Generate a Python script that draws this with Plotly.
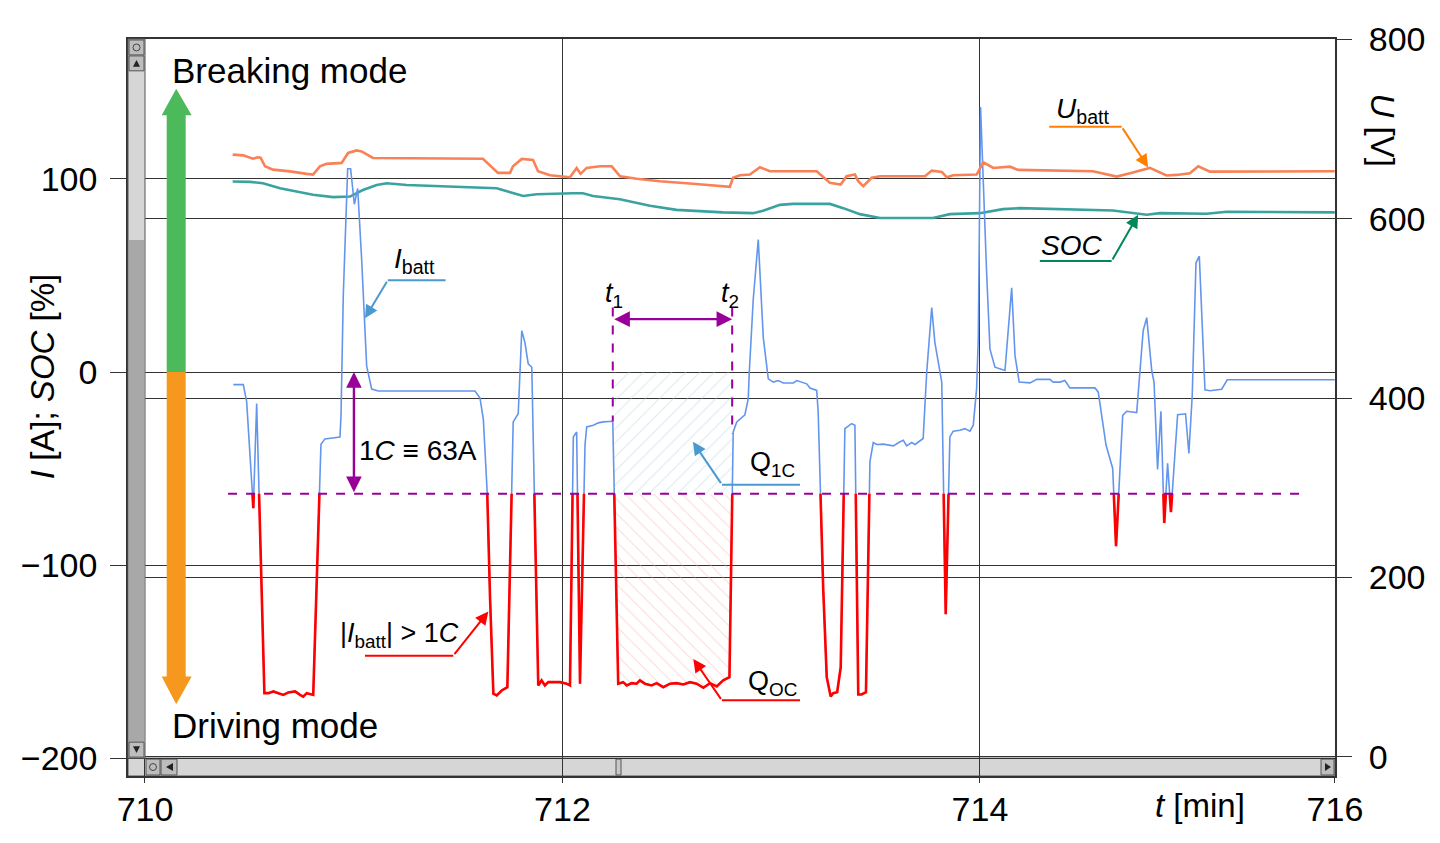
import numpy as np
import plotly.graph_objects as go

# battery current I_batt [A] vs time [min]
t_i = [710.423, 710.471, 710.487, 710.503, 710.519, 710.535, 710.572, 710.591, 710.615,
       710.639, 710.663, 710.687, 710.719, 710.743, 710.758, 710.775, 710.799, 710.806,
       710.843, 710.862, 710.934, 710.939, 710.950, 710.971, 710.985, 711.003, 711.019,
       711.038, 711.062, 711.086, 711.118, 711.581, 711.605, 711.621, 711.637, 711.653,
       711.669, 711.685, 711.709, 711.736, 711.764, 711.788, 711.805, 711.820, 711.836,
       711.853, 711.884, 711.900, 711.916, 711.932, 711.988, 712.020, 712.036, 712.052,
       712.068, 712.084, 712.108, 712.116, 712.148, 712.172, 712.196, 712.241, 712.267,
       712.291, 712.308, 712.332, 712.355, 712.371, 712.395, 712.427, 712.451, 712.483,
       712.515, 712.547, 712.579, 712.611, 712.643, 712.675, 712.707, 712.739, 712.770,
       712.800, 712.818, 712.835, 712.874, 712.890, 712.895, 712.914, 712.938, 712.962,
       712.986, 713.010, 713.034, 713.058, 713.106, 713.122, 713.170, 713.186, 713.218,
       713.225, 713.249, 713.266, 713.285, 713.297, 713.316, 713.333, 713.353, 713.385,
       713.401, 713.417, 713.433, 713.454, 713.473, 713.489, 713.505, 713.537, 713.585,
       713.617, 713.633, 713.649, 713.673, 713.689, 713.728, 713.745, 713.769, 713.784,
       713.817, 713.836, 713.856, 713.872, 713.904, 713.928, 713.952, 713.968, 713.984,
       713.992, 714.003, 714.032, 714.048, 714.072, 714.120, 714.152, 714.168, 714.188,
       714.240, 714.272, 714.335, 714.351, 714.383, 714.407, 714.431, 714.551, 714.567,
       714.604, 714.636, 714.652, 714.684, 714.703, 714.751, 714.782, 714.799, 714.823,
       714.834, 714.851, 714.867, 714.883, 714.899, 714.915, 714.947, 714.985, 715.001,
       715.017, 715.035, 715.051, 715.078, 715.102, 715.158, 715.185, 715.700]
i_batt = [-6.5, -6.5, -15.3, -42.9, -70.5, -16.3, -166.3, -166.3, -165.4,
          -166.3, -167.2, -165.9, -165.4, -167.2, -168.1, -166.3, -167.2, -167.2,
          -37.4, -34.6, -33.7, -22.7, 39.9, 105.3, 105.3, 86.9, 95.1,
          58.3, 3.1, -8.8, -9.8, -9.8, -13.5, -24.5, -52.1, -116.8,
          -166.6, -167.5, -164.9, -163.2, -25.8, -21.6, 21.4, 15.4, 4.2,
          2.5, -162.3, -159.7, -162.3, -160.6, -160.6, -161.4, -162.3, -33.6,
          -31.0, -161.4, -37.8, -28.4, -27.5, -26.3, -25.8, -25.5, -161.4,
          -160.6, -162.3, -161.1, -161.4, -159.7, -161.4, -162.3, -161.1, -163.2,
          -161.4, -161.1, -161.8, -160.6, -161.4, -163.5, -161.1, -162.8, -159.7,
          -158.0, -31.0, -25.8, -22.1, -13.8, -0.1, 37.7, 68.6, 18.0,
          -3.5, -5.2, -4.4, -5.7, -5.6, -4.4, -6.1, -8.3, -9.5,
          -20.7, -111.7, -158.0, -168.0, -166.3, -165.8, -152.9, -29.3, -26.7,
          -27.5, -167.0, -167.0, -165.8, -46.4, -36.5, -37.5, -37.3, -38.2,
          -36.1, -35.3, -38.2, -36.5, -37.5, -34.4, -0.1, 33.4, 15.4,
          -5.2, -125.4, -33.6, -30.6, -30.1, -29.3, -30.6, -27.5, -8.7,
          17.1, 137.3, 51.4, 11.9, 2.5, 0.8, 43.7, 8.5, -5.2,
          -5.6, -3.8, -3.8, -5.2, -5.2, -4.4, -8.2, -8.2, -10.4,
          -37.8, -49.9, -90.2, -22.4, -20.3, -21.0, 21.4, 28.2, 0.8,
          -5.2, -50.4, -20.3, -78.2, -47.3, -72.5, -22.1, -21.6, -42.2,
          -12.1, 56.6, 60.0, -9.2, -9.7, -8.9, -4.0, -4.0]

# battery voltage U_batt [V]
t_u = [710.420, 710.470, 710.517, 710.541, 710.554, 710.575, 710.613, 710.695, 710.775,
       710.805, 710.838, 710.870, 710.942, 710.973, 711.014, 711.038, 711.092, 711.619,
       711.691, 711.749, 711.763, 711.805, 711.859, 711.883, 711.940, 712.036, 712.068,
       712.087, 712.116, 712.180, 712.236, 712.276, 712.356, 712.467, 712.625, 712.802,
       712.817, 712.850, 712.898, 712.946, 712.994, 713.218, 713.281, 713.333, 713.361,
       713.401, 713.417, 713.441, 713.481, 713.521, 713.737, 713.769, 713.817, 713.841,
       713.872, 713.984, 714.016, 714.064, 714.144, 714.183, 714.541, 714.655, 714.719,
       714.814, 714.894, 714.942, 715.006, 715.046, 715.102, 715.700]
u_batt = [671.5, 670.7, 667.0, 668.5, 668.1, 658.5, 654.8, 652.9, 650.1,
          649.3, 658.5, 661.2, 662.3, 673.4, 676.2, 675.1, 667.8, 667.0,
          651.2, 651.2, 658.5, 666.7, 665.6, 653.0, 648.6, 646.4, 656.7,
          650.1, 656.7, 658.5, 658.5, 647.4, 644.6, 641.9, 639.0, 635.7,
          645.7, 648.6, 649.3, 657.4, 653.0, 653.0, 640.1, 638.2, 647.4,
          649.3, 641.9, 636.3, 645.7, 647.4, 647.4, 653.7, 652.3, 646.3,
          648.6, 649.3, 663.0, 656.7, 658.1, 654.5, 653.0, 647.1, 650.8,
          656.7, 648.2, 648.9, 650.8, 658.6, 652.6, 653.0]

# state of charge SOC [%]
t_soc = [710.420, 710.503, 710.565, 710.647, 710.805, 710.901, 710.982, 711.044, 711.110,
         711.158, 711.254, 711.461, 711.493, 711.685, 711.812, 711.876, 712.050, 712.098,
         712.146, 712.275, 712.419, 712.547, 712.769, 712.913, 712.961, 713.042, 713.104,
         713.281, 713.345, 713.425, 713.521, 713.775, 713.856, 714.000, 714.110, 714.192,
         714.637, 714.799, 714.862, 715.086, 715.182, 715.700]
soc = [98.7, 98.5, 97.8, 95.2, 91.8, 90.6, 90.9, 94.3, 96.9,
       97.8, 96.9, 96.1, 95.6, 95.2, 91.2, 92.1, 92.6, 92.6,
       91.2, 89.5, 86.1, 84.0, 82.7, 82.3, 83.5, 86.6, 87.1,
       87.1, 84.9, 81.8, 79.8, 79.8, 81.8, 82.3, 84.4, 84.9,
       83.7, 81.5, 82.3, 82.0, 83.0, 82.7]

ONE_C = -63          # 1C = 63 A discharge limit
T1, T2 = 712.241, 712.813

FONT = "Liberation Sans, Arial, sans-serif"
GRID = "#333333"
BLUE = "#6495ED"
RED = "#FF0000"
PURPLE = "#990099"

# the page has an 8px body margin, so the figure is 8px smaller than the window
W, H, PAGE = 1432, 835, 8
# plot area (incl. the scrollbars) in window pixels
PX0, PX1, PY0, PY1 = 128, 1335, 35, 776


def ppx(p):
    return (p - PX0) / (PX1 - PX0)


def ppy(p):
    return (PY1 - p) / (PY1 - PY0)


def split_at(t, y, thr):
    # insert the threshold crossings so the red part starts exactly at 1C
    tt, yy = [t[0]], [y[0]]
    for k in range(1, len(t)):
        y0, y1 = y[k - 1], y[k]
        if (y0 - thr) * (y1 - thr) < 0:
            tt.append(t[k - 1] + (thr - y0) * (t[k] - t[k - 1]) / (y1 - y0))
            yy.append(thr)
        tt.append(t[k])
        yy.append(y[k])
    return np.array(tt), np.array(yy)


tt, yy = split_at(t_i, i_batt, ONE_C)
red = np.where(yy <= ONE_C + 1e-9, yy, np.nan)

# over-current area between t1 and t2
sel = (tt >= T1 - 0.01) & (tt <= T2 + 0.01) & (yy <= ONE_C + 1e-9)
q_t, q_y = tt[sel], yy[sel]

fig = go.Figure()

fig.add_trace(go.Scatter(
    x=[q_t[0], q_t[-1], q_t[-1], q_t[0]], y=[0, 0, ONE_C, ONE_C],
    mode="none", fill="toself", fillcolor="rgba(0,0,0,0)",
    fillpattern=dict(shape="/", fgcolor="#b4d3db", bgcolor="rgba(0,0,0,0)", size=10, solidity=0.1),
    hoverinfo="skip"))
fig.add_trace(go.Scatter(
    x=q_t, y=q_y, mode="none", fill="toself", fillcolor="rgba(0,0,0,0)",
    fillpattern=dict(shape="\\", fgcolor="#f3b3ad", bgcolor="rgba(0,0,0,0)", size=10, solidity=0.1),
    hoverinfo="skip"))

fig.add_trace(go.Scatter(x=t_soc, y=soc, mode="lines", line=dict(color="#3aa39f", width=2.6)))
fig.add_trace(go.Scatter(x=tt, y=yy, mode="lines", line=dict(color=BLUE, width=1.6)))
fig.add_trace(go.Scatter(x=tt, y=red, mode="lines", line=dict(color=RED, width=2.6), connectgaps=False))
fig.add_trace(go.Scatter(x=t_u, y=u_batt, yaxis="y2", mode="lines", line=dict(color="#fa8155", width=2.6)))

shapes = []

# mode arrows
shapes.append(dict(type="path", xref="x", yref="y", fillcolor="#4cb95b", line=dict(width=0),
                   path="M 710.104,0 L 710.104,133 L 710.080,133 L 710.1495,146.7 "
                        "L 710.2237,133 L 710.195,133 L 710.195,0 Z"))
shapes.append(dict(type="path", xref="x", yref="y", fillcolor="#f7981e", line=dict(width=0),
                   path="M 710.104,0 L 710.104,-157.7 L 710.080,-157.7 L 710.1495,-172.1 "
                        "L 710.2237,-157.7 L 710.195,-157.7 L 710.195,0 Z"))

# 1C threshold and t1/t2 markers
shapes.append(dict(type="line", xref="x", yref="y", x0=710.398, x1=715.557, y0=ONE_C, y1=ONE_C,
                   line=dict(color=PURPLE, width=2, dash="dash")))
shapes.append(dict(type="line", xref="x", yref="y", x0=T1, x1=T1, y0=33.4, y1=-25.5,
                   line=dict(color=PURPLE, width=2, dash="dash")))
shapes.append(dict(type="line", xref="x", yref="y", x0=T2, x1=T2, y0=33.4, y1=-31.9,
                   line=dict(color=PURPLE, width=2, dash="dash")))

# underlines of the labels
for x0, x1, y0, col in [(711.163, 711.440, 47.6, "#4a9ad0"),
                        (714.332, 714.679, 127.0, "#ff8000"),
                        (714.287, 714.631, 57.5, "#00875a"),
                        (712.764, 713.138, -58.3, "#4a9ad0"),
                        (712.764, 713.138, -170.0, RED),
                        (711.054, 711.477, -146.9, RED)]:
    shapes.append(dict(type="line", xref="x", yref="y", x0=x0, x1=x1, y0=y0, y1=y0,
                       line=dict(color=col, width=2)))


def rect_px(x0, y0, x1, y1, fill, layer="above", lw=1):
    return dict(type="rect", xref="paper", yref="paper", x0=ppx(x0), x1=ppx(x1),
                y0=ppy(y1), y1=ppy(y0), fillcolor=fill, line=dict(color="#555555", width=lw), layer=layer)


def tri_px(pts, layer="above"):
    p = "M " + " L ".join(f"{ppx(a):.5f},{ppy(b):.5f}" for a, b in pts) + " Z"
    return dict(type="path", xref="paper", yref="paper", path=p, fillcolor="#222222",
                line=dict(width=0), layer=layer)


# vertical scrollbar
shapes += [
    rect_px(128, 35, 145, 758, "#d6d6d6"),
    rect_px(129, 237, 144, 742, "#a8a8a8", lw=0),
    rect_px(129, 36, 144, 51, "#bdbdbd"),
    rect_px(129, 52, 144, 67, "#bdbdbd"),
    rect_px(129, 742, 144, 757, "#bdbdbd"),
    dict(type="circle", xref="paper", yref="paper", x0=ppx(133), x1=ppx(140), y0=ppy(47), y1=ppy(40),
         line=dict(color="#444444", width=1), layer="above"),
    tri_px([(133, 63), (140, 63), (136.5, 56)]),
    tri_px([(133, 746), (140, 746), (136.5, 753)]),
]
# horizontal scrollbar
shapes += [
    rect_px(128, 758, 1335, 776, "#d6d6d6", layer="below"),
    rect_px(146, 759, 160, 775, "#bdbdbd", layer="below"),
    rect_px(161, 759, 177, 775, "#bdbdbd", layer="below"),
    rect_px(616, 759, 621, 775, "#c8c8c8", layer="below"),
    rect_px(1321, 759, 1334, 775, "#bdbdbd", layer="below"),
    dict(type="circle", xref="paper", yref="paper", x0=ppx(149.5), x1=ppx(156.5), y0=ppy(770.5), y1=ppy(763.5),
         line=dict(color="#444444", width=1), layer="below"),
    tri_px([(173, 763), (173, 771), (166, 767)], layer="below"),
    tri_px([(1325, 763), (1325, 771), (1331, 767)], layer="below"),
]

ann = []


def label(x, y, text, size=26, xanchor="center"):
    ann.append(dict(x=x, y=y, xref="x", yref="y", text=text, showarrow=False,
                    xanchor=xanchor, yanchor="middle", font=dict(size=size, color="black")))


def pointer(x, y, ax, ay, col, both=False, width=2):
    ann.append(dict(x=x, y=y, ax=ax, ay=ay, xref="x", yref="y", axref="x", ayref="y", text="",
                    showarrow=True, arrowhead=2, arrowsize=1.3, arrowwidth=width, arrowcolor=col,
                    arrowside="end+start" if both else "end", standoff=0, startstandoff=0))


label(710.120, 156.0, "Breaking mode", size=35, xanchor="left")
label(710.120, -182.9, "Driving mode", size=35, xanchor="left")
label(711.293, 57.6, "<i>I</i><sub>batt</sub>", size=28)
label(714.489, 135.4, "<i>U</i><sub>batt</sub>", size=28)
label(714.441, 65.3, "<i>SOC</i>", size=28)
label(713.004, -47.5, "Q<sub>1C</sub>", size=27)
label(713.004, -160.8, "Q<sub>OC</sub>", size=27)
label(711.217, -136.0, "|<i>I</i><sub>batt</sub>| > 1<i>C</i>", size=27)
label(711.016, -40.5, "1<i>C</i> ≡ 63A", size=28, xanchor="left")
label(712.247, 40.1, "<i>t</i><sub>1</sub>", size=27)
label(712.802, 40.1, "<i>t</i><sub>2</sub>", size=27)

pointer(711.054, 27.9, 711.163, 47.6, "#4a9ad0")
pointer(714.806, 106.0, 714.679, 127.0, "#ff8000")
pointer(714.758, 81.5, 714.631, 57.5, "#00875a")
pointer(712.625, -36.1, 712.764, -58.3, "#4a9ad0")
pointer(712.627, -148.6, 712.764, -170.0, RED)
pointer(711.645, -124.0, 711.477, -146.9, RED)
pointer(711.001, 0, 711.001, ONE_C, PURPLE, both=True, width=2.4)
pointer(T2, 27.4, T1, 27.4, PURPLE, both=True, width=2.4)

# axis titles
for px, py, angle, text in [(42, 375, -90, "<i>I</i> [A]; <i>SOC</i> [%]"),
                            (1382, 126, 90, "<i>U</i> [V]"),
                            (1200, 806, 0, "<i>t</i> [min]")]:
    ann.append(dict(x=ppx(px), y=ppy(py), xref="paper", yref="paper", showarrow=False,
                    xanchor="center", yanchor="middle", textangle=angle, text=text,
                    font=dict(size=33, color="black")))

fig.update_layout(
    width=W, height=H,
    margin=dict(l=PX0 - PAGE, r=W + PAGE - PX1, t=PY0 - PAGE, b=H + PAGE - PY1),
    plot_bgcolor="white", paper_bgcolor="white",
    showlegend=False,
    font=dict(family=FONT, size=34, color="black"),
    xaxis=dict(range=[709.9186, 715.701], tickvals=[710, 712, 714, 715.7006],
               ticktext=["710", "712", "714", "716"], showgrid=True, gridcolor=GRID, gridwidth=1.2,
               ticks="outside", ticklen=5, tickcolor=GRID, showline=True, mirror=True,
               linecolor=GRID, linewidth=1.5, zeroline=False, ticklabelstandoff=-3),
    yaxis=dict(range=[-209.2, 172.5], tickvals=[-200, -100, 0, 100],
               ticktext=["−200", "−100", "0", "100"], showgrid=True, gridcolor=GRID, gridwidth=1.2,
               ticks="outside", ticklen=16, tickcolor=GRID, showline=True, mirror=True,
               linecolor=GRID, linewidth=1.5, zeroline=False, ticklabelstandoff=6),
    yaxis2=dict(range=[-21.5, 800.5], overlaying="y", side="right", tickvals=[0, 200, 400, 600, 800],
                showgrid=True, gridcolor=GRID, gridwidth=1.2, ticks="outside", ticklen=16,
                tickcolor=GRID, showline=False, zeroline=False, ticklabelstandoff=10),
    shapes=shapes,
    annotations=ann,
)

fig.write_html("out.html")
